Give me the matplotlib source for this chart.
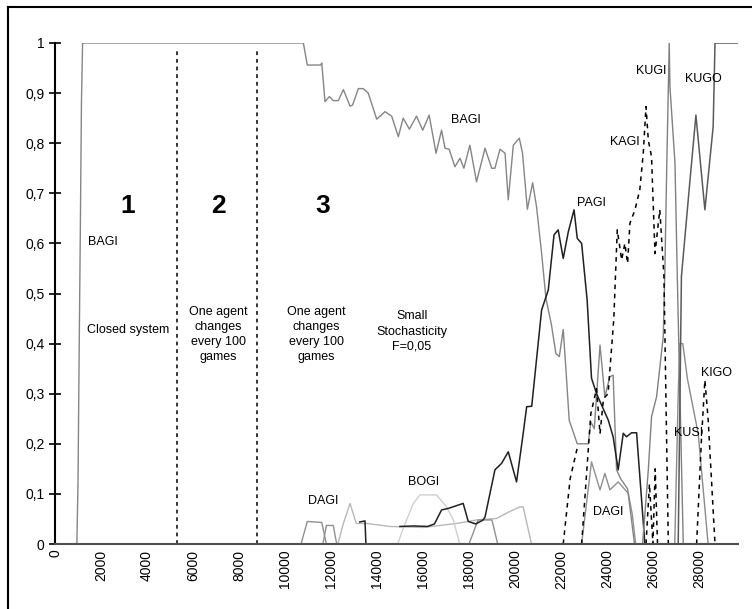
import matplotlib
matplotlib.use('Agg')
import matplotlib.pyplot as plt
from matplotlib.lines import Line2D

plt.rcParams['font.family'] = ['Liberation Sans', 'DejaVu Sans']

# --- data (games, share of population) ---
bagi_x = [0, 950, 1000, 1050, 1100, 1150, 1200, 10800, 10970, 11550, 11600, 11740, 11930, 12100, 12320,
          12540, 12830, 12940, 13190, 13400, 13620, 13990, 14350, 14640, 14930, 15140, 15410, 15720,
          15990, 16270, 16570, 16810, 16960, 17140, 17390, 17610, 17780, 18040, 18330, 18700, 18990,
          19130, 19350, 19570, 19710, 19930, 20190, 20330, 20540, 20770, 20940, 21160, 21350, 21590,
          21780, 21930, 22100, 22220, 22360, 22710, 23190, 23300, 23450, 23700, 23910, 24130, 24270,
          24420, 24600, 24900, 25200]
bagi_y = [0, 0, 0.12, 0.38, 0.62, 0.88, 1.0, 1.0, 0.956, 0.956, 0.96, 0.883, 0.893, 0.885, 0.885,
          0.907, 0.874, 0.876, 0.909, 0.909, 0.9, 0.848, 0.863, 0.854, 0.813, 0.85, 0.828, 0.854,
          0.826, 0.856, 0.78, 0.826, 0.79, 0.788, 0.753, 0.77, 0.75, 0.796, 0.723, 0.79, 0.75,
          0.75, 0.788, 0.78, 0.687, 0.796, 0.81, 0.78, 0.668, 0.721, 0.673, 0.58, 0.49, 0.437,
          0.38, 0.374, 0.428, 0.347, 0.247, 0.2, 0.2, 0.244, 0.23, 0.397, 0.294, 0.334, 0.337,
          0.148, 0.13, 0.11, 0]

pagi_x = [15000, 15600, 16200, 16500, 16810, 17100, 17750, 17970, 18300, 18620, 18700, 19130, 19420,
          19710, 20070, 20360, 20510, 20730, 21160, 21450, 21700, 21880, 22100, 22320, 22570, 22710,
          22900, 23140, 23330, 23550, 24060, 24270, 24490, 24710, 24850, 25070, 25290, 25650]
pagi_y = [0.035, 0.036, 0.035, 0.04, 0.068, 0.071, 0.081, 0.045, 0.04, 0.048, 0.054, 0.148, 0.161,
          0.184, 0.124, 0.221, 0.274, 0.275, 0.467, 0.507, 0.617, 0.627, 0.57, 0.623, 0.667, 0.61,
          0.6, 0.487, 0.331, 0.3, 0.247, 0.214, 0.148, 0.221, 0.214, 0.222, 0.222, 0]

black_x = [13250, 13480, 13520]
black_y = [0.044, 0.046, 0]

kagi_x = [22900, 23300, 23550, 23700, 23850, 24050, 24300, 24450, 24640, 24780, 24900, 25000, 25220,
          25430, 25580, 25700, 25800, 25940, 26090, 26300, 26480, 26670]
kagi_y = [0, 0.26, 0.31, 0.22, 0.29, 0.30, 0.45, 0.627, 0.567, 0.6, 0.56, 0.64, 0.667,
          0.707, 0.78, 0.873, 0.806, 0.773, 0.58, 0.667, 0.534, 0]

dash2_x = [22100, 22400, 22700]
dash2_y = [0, 0.13, 0.19]

dash3_x = [25700, 25850, 26000, 26100, 26200]
dash3_y = [0, 0.12, 0, 0.15, 0]

kigo_x = [27900, 28100, 28260, 28400, 28700]
kigo_y = [0, 0.2, 0.327, 0.25, 0]

dagi2_x = [22900, 23330, 23700, 23910, 24130, 24490, 24930, 25100, 25250]
dagi2_y = [0, 0.164, 0.108, 0.141, 0.108, 0.124, 0.101, 0.06, 0]

kugi_x = [25550, 25800, 25940, 26160, 26450, 26520, 26600, 26710, 26740, 26960, 27060, 27320]
kugi_y = [0, 0.148, 0.254, 0.294, 0.414, 0.547, 0.75, 1.0, 0.913, 0.76, 0.534, 0]

kugo_x = [27100, 27240, 27600, 27870, 28260, 28620, 28700, 29700]
kugo_y = [0, 0.534, 0.72, 0.856, 0.667, 0.833, 1.0, 1.0]

kusi_x = [26950, 27100, 27170, 27300, 27500, 27970, 28400]
kusi_y = [0, 0.3, 0.4, 0.4, 0.33, 0.22, 0]

dagi1_x = [10700, 10970, 11600, 11800]
dagi1_y = [0, 0.045, 0.043, 0]

low2_x = [11650, 11800, 12100, 12250]
low2_y = [0, 0.037, 0.037, 0]

long_x = [12300, 12540, 12830, 13100, 13550, 14560, 16010, 17460, 18330, 19200, 19780, 20220, 20360, 20720]
long_y = [0, 0.041, 0.081, 0.041, 0.041, 0.035, 0.033, 0.041, 0.048, 0.051, 0.065, 0.074, 0.074, 0]

bogi_x = [14900, 15140, 15580, 15870, 16590, 17030, 17320, 17600]
bogi_y = [0, 0.031, 0.081, 0.098, 0.098, 0.074, 0.048, 0]

mid1_x = [18000, 18400, 19000, 19250]
mid1_y = [0, 0.048, 0.048, 0]

phase_lines = [5300, 8800]

fig = plt.figure(figsize=(7.52, 6.09), dpi=100)
ax = fig.add_axes([55 / 752, 1 - 544 / 609, 683 / 752, 501 / 609])

# faint lines first
ax.plot(long_x, long_y, color='#b8b8b8', lw=1.0)
ax.plot(bogi_x, bogi_y, color='#d0d0d0', lw=1.0)
ax.plot(dagi1_x, dagi1_y, color='#909090', lw=1.0)
ax.plot(low2_x, low2_y, color='#909090', lw=1.0)
ax.plot(mid1_x, mid1_y, color='#909090', lw=1.0)
ax.plot(dagi2_x, dagi2_y, color='#909090', lw=1.0)

ax.plot(bagi_x, bagi_y, color='#858585', lw=1.0)
ax.plot(pagi_x, pagi_y, color='#202020', lw=1.1)
ax.plot(black_x, black_y, color='#202020', lw=1.1)
ax.plot(kugi_x, kugi_y, color='#808080', lw=1.0)
ax.plot(kusi_x, kusi_y, color='#8a8a8a', lw=1.0)
ax.plot(kugo_x, kugo_y, color='#5a5a5a', lw=1.1)

for xs, ys in [(kagi_x, kagi_y), (dash2_x, dash2_y), (dash3_x, dash3_y), (kigo_x, kigo_y)]:
    ax.plot(xs, ys, color='black', lw=1.1, ls=(0, (3, 3)))

for xv in phase_lines:
    ax.plot([xv, xv], [0, 0.985], color='black', lw=1.1, ls=(0, (2.5, 2.5)))

ax.set_xlim(0, 29700)
ax.set_ylim(0, 1)

for s in ['top', 'right']:
    ax.spines[s].set_visible(False)
ax.spines['left'].set_color('black')
ax.spines['left'].set_linewidth(1.5)
ax.spines['bottom'].set_color('#505050')
ax.spines['bottom'].set_linewidth(1.5)

yt = [i / 10 for i in range(11)]
ax.set_yticks(yt)
ax.set_yticklabels(['0'] + ['0,%d' % i for i in range(1, 10)] + ['1'], fontsize=10)
ax.tick_params(axis='y', direction='inout', length=9, width=1.2, pad=3)

xt = list(range(0, 29000, 2000))
ax.set_xticks(xt)
ax.set_xticklabels([str(v) for v in xt], rotation=90, fontsize=10)
ax.tick_params(axis='x', length=0, pad=4)

# region numbers
for xv, lab in [(3170, '1'), (7090, '2'), (11650, '3')]:
    ax.text(xv, 0.675, lab, fontsize=19, fontweight='bold', ha='center', va='center')

txt = dict(fontsize=9, ha='center', va='center', linespacing=1.35)
ax.text(2090, 0.603, 'BAGI', **txt)
ax.text(3160, 0.427, 'Closed system', **txt)
ax.text(7100, 0.418, 'One agent\nchanges\nevery 100\ngames', **txt)
ax.text(11380, 0.418, 'One agent\nchanges\nevery 100\ngames', **txt)
ax.text(15510, 0.424, 'Small\nStochasticity\nF=0,05', **txt)
ax.text(17870, 0.846, 'BAGI', **txt)
ax.text(23330, 0.681, 'PAGI', **txt)
ax.text(24780, 0.803, 'KAGI', **txt)
ax.text(25940, 0.945, 'KUGI', **txt)
ax.text(28190, 0.928, 'KUGO', **txt)
ax.text(28770, 0.342, 'KIGO', **txt)
ax.text(27540, 0.221, 'KUSI', **txt)
ax.text(24060, 0.064, 'DAGI', **txt)
ax.text(16010, 0.124, 'BOGI', **txt)
ax.text(11670, 0.086, 'DAGI', **txt)

# outer frame (cut off on the right and bottom)
fig.add_artist(Line2D([8 / 752, 8 / 752], [0, 1 - 7 / 609], color='black', lw=1.5))
fig.add_artist(Line2D([8 / 752, 1], [1 - 7 / 609, 1 - 7 / 609], color='black', lw=1.5))

fig.savefig('out.png', dpi=100)
